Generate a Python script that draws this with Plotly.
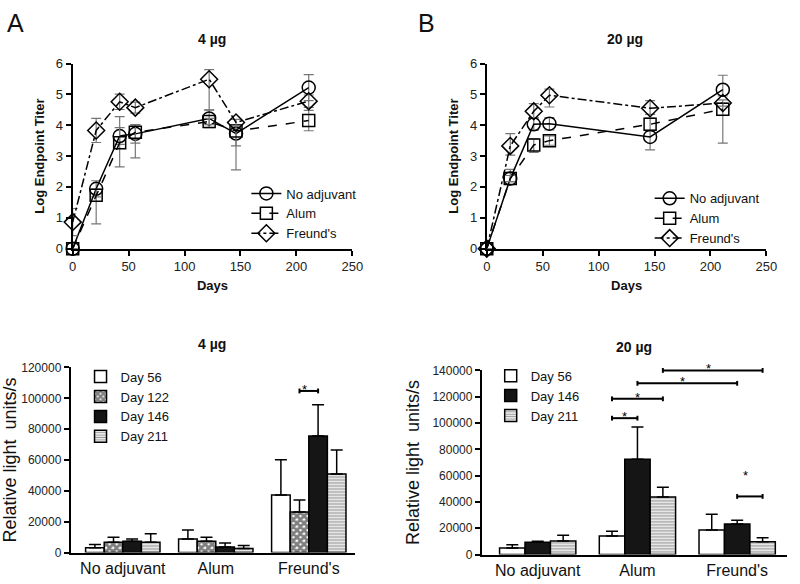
import plotly.graph_objects as go

# ---- titer data (log endpoint titer) ----
days_4 = [0, 21, 42, 56, 122, 146, 211]
noadj_4 = [0, 1.94, 3.65, 3.72, 4.22, 3.73, 5.22]
noadj_4_up = [0, 0.26, 0.27, 0.3, 0.28, 0.2, 0.42]
noadj_4_dn = [0, 0.26, 0.27, 0.3, 0.3, 0.4, 0.42]
alum_4 = [0, 1.73, 3.43, 3.77, 4.12, 3.81, 4.15]
alum_4_up = [0, 0.2, 0.85, 0.25, 0.1, 0.2, 0.33]
alum_4_dn = [0, 0.93, 0.78, 0.83, 0.1, 1.26, 0.33]
freund_4 = [0.86, 3.83, 4.76, 4.57, 5.49, 4.09, 4.78]
freund_4_up = [0.44, 0.39, 0.25, 0.18, 0.31, 0.1, 0.2]
freund_4_dn = [0.44, 0.39, 0.25, 0.18, 1.0, 0.1, 0.2]

days_20 = [0, 21, 42, 56, 146, 211]
noadj_20 = [0, 2.27, 4.03, 4.05, 3.62, 5.15]
noadj_20_up = [0, 0.3, 0.2, 0.2, 0.2, 0.47]
noadj_20_dn = [0, 0.1, 0.2, 0.2, 0.42, 0.2]
alum_20 = [0, 2.27, 3.36, 3.5, 4.03, 4.52]
alum_20_up = [0, 0.1, 0.2, 0.15, 0.2, 0.2]
alum_20_dn = [0, 0.1, 0.24, 0.15, 0.2, 1.1]
freund_20 = [0, 3.33, 4.45, 4.97, 4.55, 4.72]
freund_20_up = [0, 0.4, 0.25, 0.2, 0.25, 0.1]
freund_20_dn = [0, 0.3, 0.2, 0.38, 0.2, 0.1]

# ---- relative light units ----
groups = ["No adjuvant", "Alum", "Freund's"]
days_bar_4 = ["Day 56", "Day 122", "Day 146", "Day 211"]
rlu_4 = [[3200, 8800, 37300],
         [6700, 7400, 26300],
         [7400, 3600, 75600],
         [6700, 2700, 50900]]
rlu_4_err = [[2100, 5900, 22900],
             [3200, 2500, 7800],
             [1400, 2700, 20200],
             [5500, 1900, 15600]]
days_bar_20 = ["Day 56", "Day 146", "Day 211"]
rlu_20 = [[4900, 14200, 18700],
          [9300, 72500, 23300],
          [10300, 43700, 9800]]
rlu_20_err = [[2500, 3500, 12000],
              [900, 24500, 2700],
              [4400, 7400, 3000]]

# significance brackets: (group a, day a, group b, day b, height)
sig_4 = [(2, 1, 2, 2, 104800)]
sig_20 = [(1, 0, 1, 1, 103700), (1, 0, 1, 2, 118400), (1, 1, 2, 1, 130200),
          (1, 2, 2, 2, 140000), (2, 1, 2, 2, 44200)]

FONT = "Arial, Liberation Sans, sans-serif"
W, H = 800, 584
BAR_RANGE = [-0.56, 2.5]


def px_x(p):
    return p / W


def px_y(p):
    return 1 - p / H


fig = go.Figure()

line_styles = [("No adjuvant", "circle-open", 13, "solid"),
               ("Alum", "square-open", 12, "dash"),
               ("Freund's", "diamond-open", 13, "dashdot")]

top_sets = [
    ("x", "y", "legend", days_4, [(noadj_4, noadj_4_up, noadj_4_dn),
                                  (alum_4, alum_4_up, alum_4_dn),
                                  (freund_4, freund_4_up, freund_4_dn)]),
    ("x2", "y2", "legend2", days_20, [(noadj_20, noadj_20_up, noadj_20_dn),
                                      (alum_20, alum_20_up, alum_20_dn),
                                      (freund_20, freund_20_up, freund_20_dn)]),
]
for xa, ya, leg, days, series in top_sets:
    for (name, sym, size, dash), (vals, up, dn) in zip(line_styles, series):
        fig.add_trace(go.Scatter(
            x=days, y=vals, name=name, mode="lines+markers",
            xaxis=xa, yaxis=ya, legend=leg, cliponaxis=False,
            line=dict(color="black", width=1.5, dash=dash),
            marker=dict(symbol=sym, size=size, color="black",
                        line=dict(width=1.5, color="black")),
            error_y=dict(type="data", array=up, arrayminus=dn, symmetric=False,
                         color="#777777", thickness=1.2, width=5),
        ))

bar_styles = {
    "Day 56": dict(color="white", line=dict(color="black", width=1.5)),
    "Day 122": dict(color="white", line=dict(color="black", width=1.5),
                    pattern=dict(shape="x", fgcolor="black", bgcolor="white",
                                 size=5, solidity=0.8)),
    "Day 146": dict(color="#151515", line=dict(color="black", width=1.5)),
    "Day 211": dict(color="white", line=dict(color="black", width=1.5),
                    pattern=dict(shape="-", fgcolor="#333333", bgcolor="white",
                                 size=3, solidity=0.5)),
}

bar_sets = [("x3", "y3", "legend3", days_bar_4, rlu_4, rlu_4_err, 0.2),
            ("x4", "y4", "legend4", days_bar_20, rlu_20, rlu_20_err, 0.255)]
for xa, ya, leg, dnames, vals, errs, bw in bar_sets:
    n = len(dnames)
    for i, (dn, v, e) in enumerate(zip(dnames, vals, errs)):
        fig.add_trace(go.Bar(
            x=[0, 1, 2], y=v, name=dn, xaxis=xa, yaxis=ya, legend=leg,
            width=bw, offset=-n * bw / 2 + i * bw,
            marker=bar_styles[dn],
            error_y=dict(type="data", array=e, arrayminus=[0] * 3, symmetric=False,
                         color="black", thickness=1.5, width=6),
        ))

shapes = []
annotations = []
for xa, ya, sigs, n, bw, ymax in [("x3", "y3", sig_4, 4, 0.2, 120000),
                                  ("x4", "y4", sig_20, 3, 0.255, 140000)]:
    cap = 0.013
    span = BAR_RANGE[1] - BAR_RANGE[0]
    for ga, da, gb, db, h in sigs:
        xa0 = (ga - n * bw / 2 + (da + 0.5) * bw - BAR_RANGE[0]) / span
        xb0 = (gb - n * bw / 2 + (db + 0.5) * bw - BAR_RANGE[0]) / span
        yy = h / ymax
        ln = dict(color="black", width=2)
        common = dict(type="line", xref=xa + " domain", yref=ya + " domain", line=ln)
        shapes.append(dict(common, x0=xa0, x1=xb0, y0=yy, y1=yy))
        shapes.append(dict(common, x0=xa0, x1=xa0, y0=yy - cap, y1=yy + cap))
        shapes.append(dict(common, x0=xb0, x1=xb0, y0=yy - cap, y1=yy + cap))
        annotations.append(dict(xref=xa + " domain", yref=ya + " domain",
                                x=(xa0 + xb0) / 2, y=yy, text="*",
                                showarrow=False, yshift=11, font=dict(size=13, color="black")))

# titles and panel letters
for txt, x, y, size, bold in [("A", 12, 16, 25, False), ("B", 431, 16, 25, False),
                              ("4 µg", 212, 33, 14, True), ("20 µg", 633, 33, 14, True),
                              ("4 µg", 212, 346, 14, True), ("20 µg", 642, 349, 14, True)]:
    annotations.append(dict(xref="paper", yref="paper", x=px_x(x), y=px_y(y),
                            text=f"<b>{txt}</b>" if bold else txt, showarrow=False,
                            xanchor="center", yanchor="middle",
                            font=dict(size=size, color="#111")))

axis_base = dict(showline=True, linecolor="black", linewidth=2, ticks="outside",
                 ticklen=5, tickwidth=1.5, tickcolor="black", showgrid=False,
                 zeroline=False, tickfont=dict(size=13, color="#222"))

layout_axes = {}
for i, (x0, x1) in enumerate([(70, 355), (492, 777)]):
    sfx = "" if i == 0 else "2"
    layout_axes["xaxis" + sfx] = dict(axis_base, domain=[px_x(x0), px_x(x1)],
                                      anchor="y" + sfx, range=[0, 250], dtick=50,
                                      title=dict(text="<b>Days</b>", standoff=8,
                                                 font=dict(size=13, color="#111")))
    layout_axes["yaxis" + sfx] = dict(axis_base, domain=[px_y(248), px_y(58)],
                                      anchor="x" + sfx, range=[0, 6], dtick=1,
                                      title=dict(text="<b>Log Endpoint Titer</b>", standoff=8,
                                                 font=dict(size=13, color="#111")))

for sfx, (x0, x1), (yb, yt), ymax in [("3", (68, 358), (560, 370), 120000),
                                      ("4", (487, 798), (562, 373), 140000)]:
    layout_axes["xaxis" + sfx] = dict(axis_base, domain=[px_x(x0), px_x(x1)],
                                      anchor="y" + sfx, range=BAR_RANGE, ticks="",
                                      tickvals=[0, 1, 2], ticktext=groups,
                                      tickfont=dict(size=16, color="#111"))
    layout_axes["yaxis" + sfx] = dict(axis_base, domain=[px_y(yb), px_y(yt)],
                                      anchor="x" + sfx, range=[0, ymax], dtick=20000,
                                      tickformat="d", tickfont=dict(size=12, color="#222"),
                                      title=dict(text="Relative light  units/s", standoff=8,
                                                 font=dict(size=18, color="#111")))

leg_base = dict(xref="paper", yref="paper", xanchor="left", yanchor="top",
                bgcolor="rgba(0,0,0,0)", itemwidth=30, tracegroupgap=0,
                font=dict(size=13, color="#111"))

fig.update_layout(
    width=W, height=H, margin=dict(l=0, r=0, t=0, b=0),
    paper_bgcolor="white", plot_bgcolor="white",
    font=dict(family=FONT, color="#111"),
    barmode="overlay",
    shapes=shapes, annotations=annotations,
    legend=dict(leg_base, x=px_x(247), y=px_y(176)),
    legend2=dict(leg_base, x=px_x(658), y=px_y(181)),
    legend3=dict(leg_base, x=px_x(78), y=px_y(364)),
    legend4=dict(leg_base, x=px_x(496), y=px_y(363)),
    **layout_axes,
)

# no page margin / scrollbars, no modebar
fig.write_html(
    "out.html",
    config={"displayModeBar": False},
    post_script="document.body.style.margin='0';"
                "document.documentElement.style.overflow='hidden';",
)
